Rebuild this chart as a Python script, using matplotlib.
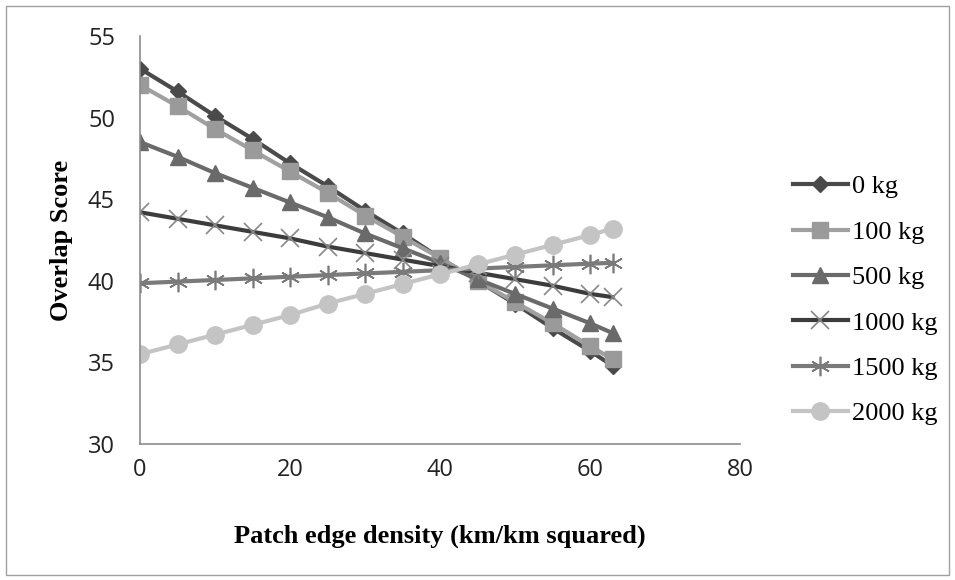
import matplotlib
matplotlib.use("Agg")
import matplotlib.pyplot as plt
from matplotlib.patches import Rectangle

x_vals = [0, 5, 10, 15, 20, 25, 30, 35, 40, 45, 50, 55, 60, 63]
s0 = [53.0, 51.6, 50.1, 48.7, 47.2, 45.8, 44.3, 42.9, 41.4, 40.0, 38.6, 37.1, 35.7, 34.8]
s100 = [52.0, 50.7, 49.3, 48.0, 46.7, 45.4, 44.0, 42.7, 41.4, 40.0, 38.7, 37.4, 36.0, 35.2]
s500 = [48.5, 47.6, 46.6, 45.7, 44.8, 43.9, 42.9, 42.0, 41.1, 40.1, 39.2, 38.3, 37.4, 36.8]
s1000 = [44.2, 43.8, 43.4, 43.0, 42.6, 42.1, 41.7, 41.3, 40.9, 40.5, 40.1, 39.7, 39.2, 39.0]
s1500 = [39.85, 39.95, 40.05, 40.15, 40.25, 40.35, 40.45, 40.55, 40.65, 40.75, 40.85, 40.95, 41.05, 41.1]
s2000 = [35.5, 36.1, 36.7, 37.3, 37.9, 38.6, 39.2, 39.8, 40.4, 41.0, 41.6, 42.2, 42.8, 43.2]
labels = ["0 kg", "100 kg", "500 kg", "1000 kg", "1500 kg", "2000 kg"]
x_ticks = [0, 20, 40, 60, 80]
y_ticks = [30, 35, 40, 45, 50, 55]

fig = plt.figure(figsize=(9.55, 5.8), dpi=100)
fig.patches.append(Rectangle((6/955, 5/580), 943/955, 569/580, transform=fig.transFigure,
                             fill=False, edgecolor="#a0a0a0", linewidth=1.0))
ax = fig.add_axes([140/955, 1-444/580, 600/955, 408/580])

styles = [
    dict(color="#4a4a4a", marker="D", markersize=8, mfc="#4a4a4a", mec="#4a4a4a"),
    dict(color="#a0a0a0", marker="s", markersize=12, mfc="#9a9a9a", mec="#9a9a9a"),
    dict(color="#6a6a6a", marker="^", markersize=11.5, mfc="#6a6a6a", mec="#6a6a6a"),
    dict(color="#3c3c3c", marker="x", markersize=13, mfc="#888888", mec="#888888", mew=1.2),
    dict(color="#7a7a7a", marker=(6, 2, 0), markersize=14, mfc="#7a7a7a", mec="#7a7a7a", mew=1.2),
    dict(color="#c4c4c4", marker="o", markersize=12.5, mfc="#c4c4c4", mec="#c4c4c4"),
]
series = [s0, s100, s500, s1000, s1500, s2000]
for s, lab, st in zip(series, labels, styles):
    ax.plot(x_vals, s, label=lab, linewidth=3.0, **st)

ax.set_xlim(0, 80)
ax.set_ylim(30, 55)
ax.set_xticks(x_ticks)
ax.set_yticks(y_ticks)
for sp in ["top", "right"]:
    ax.spines[sp].set_visible(False)
for sp in ["left", "bottom"]:
    ax.spines[sp].set_color("#8c8c8c")
    ax.spines[sp].set_linewidth(1.2)
ax.tick_params(axis="both", length=0, labelsize=17, colors="#222222")
ax.tick_params(axis="y", pad=18)
ax.tick_params(axis="x", pad=10)
for t in ax.get_xticklabels() + ax.get_yticklabels():
    t.set_fontfamily("Open Sans")

ax.set_xlabel("Patch edge density (km/km squared)", fontfamily="Liberation Serif",
              fontweight="bold", fontsize=19)
ax.xaxis.set_label_coords(0.5, -0.198)
ax.set_ylabel("Overlap Score", fontfamily="Liberation Serif", fontweight="bold", fontsize=19)
ax.yaxis.set_label_coords(-0.112, 0.5)

leg = fig.legend(loc="upper left", bbox_to_anchor=(793/955, 1-175/580), frameon=False,
                 prop=dict(family="Liberation Serif", size=19), handlelength=2.08,
                 handletextpad=0.15, labelspacing=0.83, borderaxespad=0, borderpad=0)

fig.savefig("out.png", dpi=100)
